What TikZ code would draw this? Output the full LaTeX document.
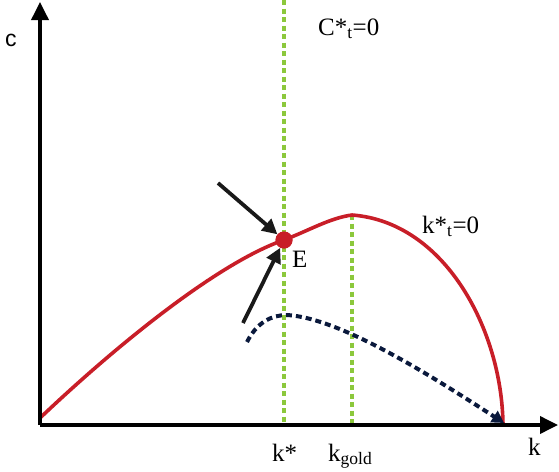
\documentclass[tikz,border=0pt]{standalone}
\usepackage{fontspec}
\setmainfont{Liberation Serif}
\newfontfamily\axsans{Liberation Sans}
\usetikzlibrary{arrows.meta}
\definecolor{curvered}{RGB}{200,30,40}
\definecolor{guidegreen}{RGB}{140,200,60}
\definecolor{pathnavy}{RGB}{10,25,60}
\tikzset{
  axisline/.style={line width=3.6pt, black, -{Triangle[length=18pt,width=17pt]}},
  guideline/.style={line width=3.6pt, guidegreen, dash pattern=on 5pt off 3.5pt},
  redcurve/.style={line width=3.6pt, curvered},
  pathcurve/.style={line width=4pt, pathnavy, dash pattern=on 6pt off 4pt, -{Triangle[length=12pt,width=13pt]}},
  pointarrow/.style={line width=3.8pt, black!90, -{Triangle[length=15pt,width=15pt]}},
  lbl/.style={font=\fontsize{25}{30}\selectfont, inner sep=0pt, anchor=base west}
}
\begin{document}
\begin{tikzpicture}[x=1pt,y=-1pt]
\useasboundingbox (0,0) rectangle (559,471);
% coordinates
\coordinate (O) at (40,425);
\coordinate (Ytop) at (40,2);
\coordinate (Xend) at (558,425);
\coordinate (G1top) at (284,0);
\coordinate (G1bot) at (284,425);
\coordinate (G2top) at (352,215);
\coordinate (G2bot) at (352,425);
\coordinate (R0) at (40,418);
\coordinate (Rpk) at (352,215);
\coordinate (Rend) at (503,425);
\coordinate (B0) at (247,342);
\coordinate (Bpk) at (287,315);
\coordinate (Bend) at (504,423);
\coordinate (A1s) at (218,183);
\coordinate (A2s) at (243,323);
% green guides
\draw[guideline] (G1top) -- (G1bot);
\draw[guideline] (G2top) -- (G2bot);
% red curve
\node[circle, fill=curvered, minimum size=17pt, inner sep=0pt] (E) at (284,240) {};
\draw[redcurve] (R0) .. controls (120,342) and (220,262) .. (E.center)
  .. controls (310,230) and (330,218) .. (Rpk)
  .. controls (445,222) and (502,330) .. (Rend);
\node[circle, fill=curvered, minimum size=17pt, inner sep=0pt] at (E) {};
% navy path
\draw[pathcurve] (B0) .. controls (257,322) and (272,315) .. (Bpk)
  .. controls (340,318) and (430,375) .. (Bend);
% axes
\draw[axisline] (O) -- (Ytop);
\draw[axisline] (O) -- (Xend);
% arrows to E
\draw[pointarrow] (A1s) -- (E);
\draw[pointarrow] (A2s) -- (E);
% labels
\node[font=\axsans\fontsize{23}{28}\selectfont, inner sep=0pt] (lc) at (11,40) {c};
\node[lbl] (lC) at (318,35) {C*\textsubscript{t}=0};
\node[lbl] (lk) at (422,233) {k*\textsubscript{t}=0};
\node[lbl] (lE) at (292,267) {E};
\node[lbl] (lks) at (272,461) {k*};
\node[lbl] (lkg) at (328,461) {k\textsubscript{gold}};
\node[lbl] (lkk) at (528,455) {k};
\end{tikzpicture}
\end{document}
